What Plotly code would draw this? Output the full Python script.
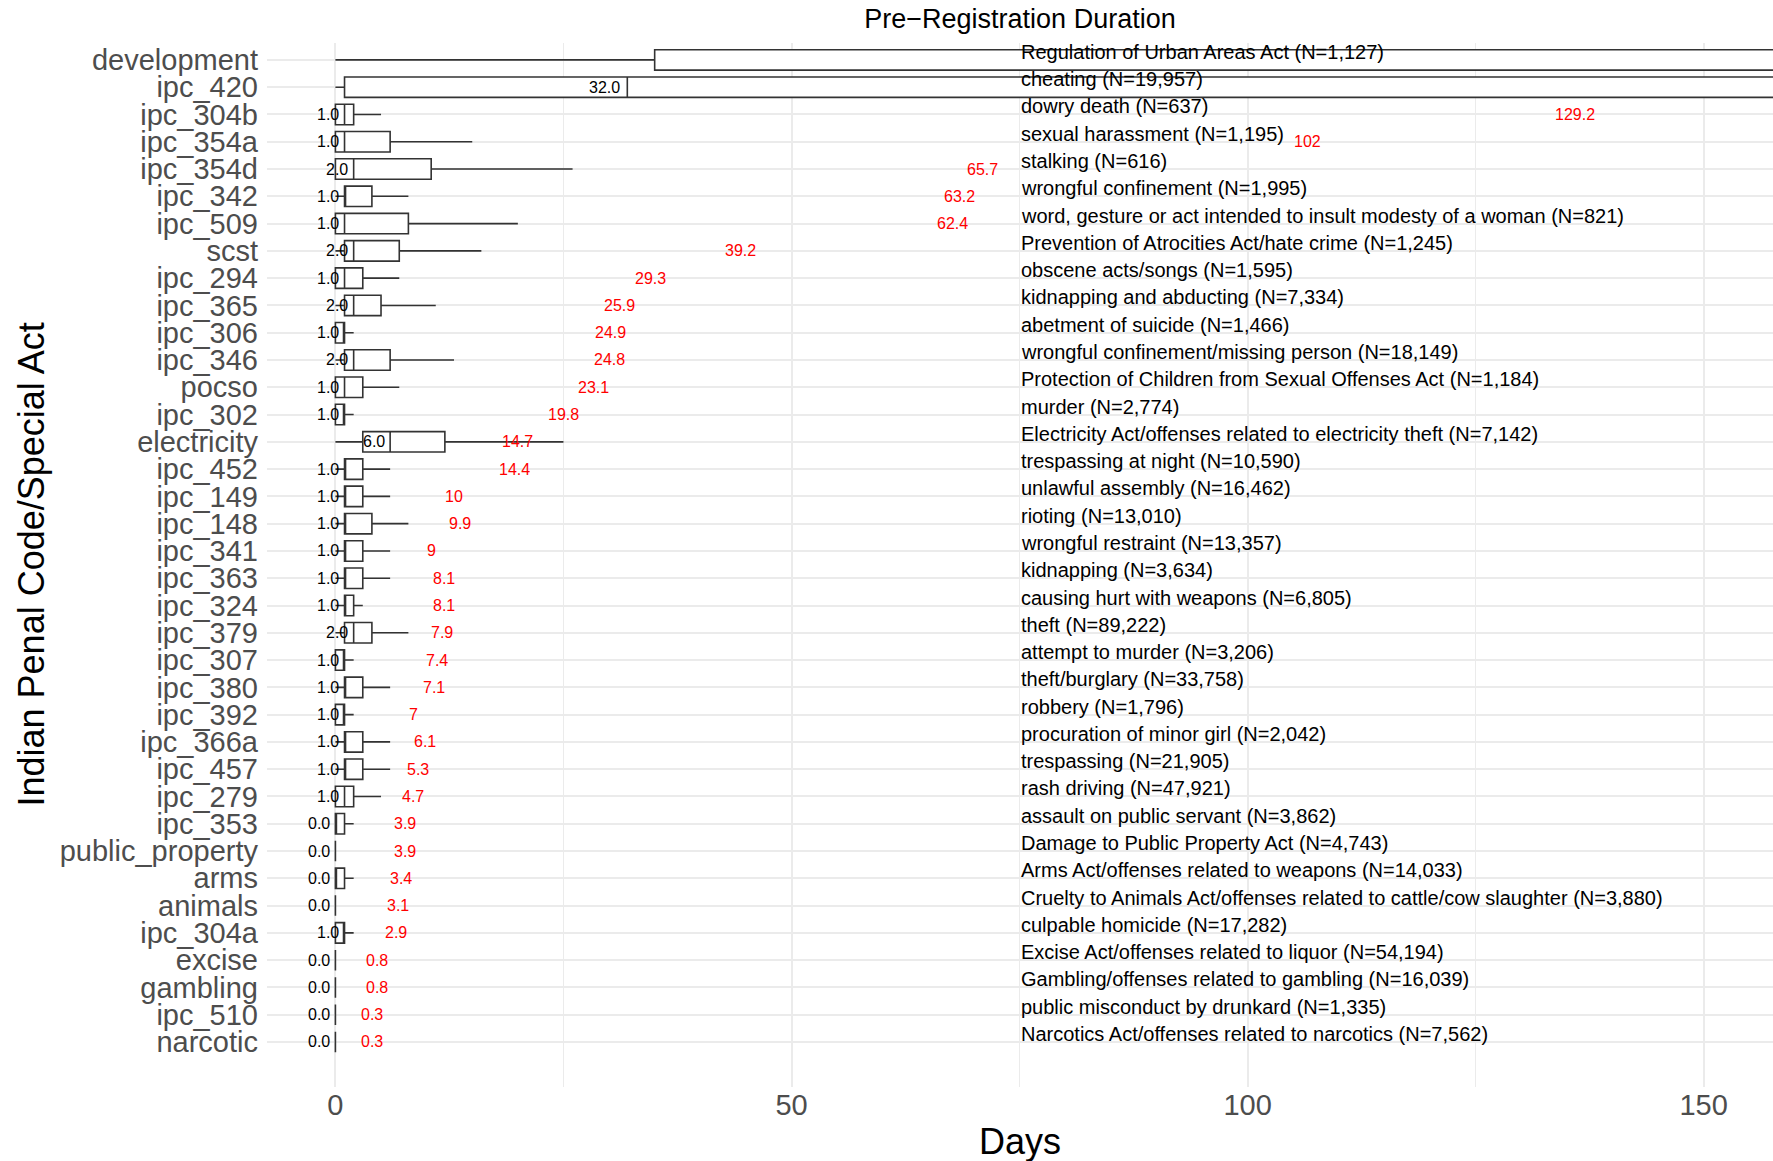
import plotly.graph_objects as go

# ---------------- data (top row first) ----------------
categories = [
    "development", "ipc_420", "ipc_304b", "ipc_354a", "ipc_354d", "ipc_342", "ipc_509",
    "scst", "ipc_294", "ipc_365", "ipc_306", "ipc_346", "pocso", "ipc_302", "electricity",
    "ipc_452", "ipc_149", "ipc_148", "ipc_341", "ipc_363", "ipc_324", "ipc_379", "ipc_307",
    "ipc_380", "ipc_392", "ipc_366a", "ipc_457", "ipc_279", "ipc_353", "public_property",
    "arms", "animals", "ipc_304a", "excise", "gambling", "ipc_510", "narcotic",
]
descriptions = [
    "Regulation of Urban Areas Act (N=1,127)",
    "cheating (N=19,957)",
    "dowry death (N=637)",
    "sexual harassment (N=1,195)",
    "stalking (N=616)",
    "wrongful confinement (N=1,995)",
    "word, gesture or act intended to insult modesty of a woman (N=821)",
    "Prevention of Atrocities Act/hate crime (N=1,245)",
    "obscene acts/songs (N=1,595)",
    "kidnapping and abducting (N=7,334)",
    "abetment of suicide (N=1,466)",
    "wrongful confinement/missing person (N=18,149)",
    "Protection of Children from Sexual Offenses Act (N=1,184)",
    "murder (N=2,774)",
    "Electricity Act/offenses related to electricity theft (N=7,142)",
    "trespassing at night (N=10,590)",
    "unlawful assembly (N=16,462)",
    "rioting (N=13,010)",
    "wrongful restraint (N=13,357)",
    "kidnapping (N=3,634)",
    "causing hurt with weapons (N=6,805)",
    "theft (N=89,222)",
    "attempt to murder (N=3,206)",
    "theft/burglary (N=33,758)",
    "robbery (N=1,796)",
    "procuration of minor girl (N=2,042)",
    "trespassing (N=21,905)",
    "rash driving (N=47,921)",
    "assault on public servant (N=3,862)",
    "Damage to Public Property Act (N=4,743)",
    "Arms Act/offenses related to weapons (N=14,033)",
    "Cruelty to Animals Act/offenses related to cattle/cow slaughter (N=3,880)",
    "culpable homicide (N=17,282)",
    "Excise Act/offenses related to liquor (N=54,194)",
    "Gambling/offenses related to gambling (N=16,039)",
    "public misconduct by drunkard (N=1,335)",
    "Narcotics Act/offenses related to narcotics (N=7,562)",
]
lower_fence = [0, 0, 0, 0, 0, 0, 0, 0, 0, 0, 0, 0, 0, 0, 0, 0, 0, 0, 0, 0, 0, 0, 0,
               0, 0, 0, 0, 0, 0, 0, 0, 0, 0, 0, 0, 0, 0]
q1 = [35, 1, 0, 0, 0, 1, 0, 1, 0, 1, 0, 1, 0, 0, 3, 1, 1, 1, 1, 1, 1, 1, 0,
      1, 0, 1, 1, 0, 0, 0, 0, 0, 0, 0, 0, 0, 0]
median = [200, 32, 1, 1, 2, 1, 1, 2, 1, 2, 1, 2, 1, 1, 6, 1, 1, 1, 1, 1, 1, 2, 1,
          1, 1, 1, 1, 1, 0, 0, 0, 0, 1, 0, 0, 0, 0]
q3 = [400, 220, 2, 6, 10.5, 4, 8, 7, 3, 5, 1, 6, 3, 1, 12, 3, 3, 4, 3, 3, 2, 4, 1,
      3, 1, 3, 3, 2, 1, 0, 1, 0, 1, 0, 0, 0, 0]
upper_fence = [900, 500, 5, 15, 26, 8, 20, 16, 7, 11, 2, 13, 7, 2, 25, 6, 6, 8, 6, 6, 3, 8, 2,
               6, 2, 6, 6, 5, 2, 0, 2, 0, 2, 0, 0, 0, 0]
mean = [250, 170, 129.2, 102, 65.7, 63.2, 62.4, 39.2, 29.3, 25.9, 24.9, 24.8, 23.1, 19.8, 14.7,
        14.4, 10, 9.9, 9, 8.1, 8.1, 7.9, 7.4, 7.1, 7, 6.1, 5.3, 4.7, 3.9, 3.9,
        3.4, 3.1, 2.9, 0.8, 0.8, 0.3, 0.3]
x_ticks = [0, 50, 100, 150]
desc_x = 75

# ---------------- layout constants ----------------
FONT = "Liberation Sans, Arial, Helvetica, sans-serif"
W, H = 1773, 1161
ML, MR, MT, MB = 267, 0, 43, 74
X_RANGE = [-7.5, 157.6]
n = len(categories)
ypos = [n - 1 - i for i in range(n)]
Y_RANGE = [-1.65, n - 1 + 0.62]

CW = {c: 0.556 for c in "0123456789"}
CW.update({".": 0.278, ",": 0.278})


def text_w(s, size):
    return sum(CW.get(c, 0.556) for c in s) * size


fig = go.Figure()
fig.add_trace(go.Box(
    y=ypos, q1=q1, median=median, q3=q3,
    lowerfence=lower_fence, upperfence=upper_fence,
    orientation="h", width=0.75, whiskerwidth=0,
    fillcolor="white", line=dict(color="#333333", width=1.6),
    boxpoints=False, hoverinfo="skip", showlegend=False,
))

ann = []
lab_size = 16
for i in range(n):
    y = ypos[i]
    # median label (right-aligned, hjust ~1.2)
    if X_RANGE[0] <= median[i] <= X_RANGE[1]:
        s = f"{median[i]:.1f}"
        ann.append(dict(x=median[i], y=y, xref="x", yref="y", text=s, showarrow=False,
                        xanchor="right", yanchor="middle", borderpad=0,
                        xshift=-0.2 * text_w(s, lab_size),
                        font=dict(family=FONT, size=lab_size, color="black")))
    # mean label (red, hjust = -1)
    if X_RANGE[0] <= mean[i] <= X_RANGE[1]:
        s = f"{round(mean[i], 1):g}"
        ann.append(dict(x=mean[i], y=y, xref="x", yref="y", text=s, showarrow=False,
                        xanchor="left", yanchor="middle", borderpad=0,
                        xshift=text_w(s, lab_size),
                        font=dict(family=FONT, size=lab_size, color="red")))
    # description
    ann.append(dict(x=desc_x, y=y, xref="x", yref="y", text=descriptions[i], showarrow=False,
                    xanchor="left", yanchor="middle", borderpad=0, yshift=8,
                    font=dict(family=FONT, size=20, color="black")))

plot_w = W - ML - MR
plot_h = H - MT - MB
# axis titles
ann.append(dict(x=(30.5 - ML) / plot_w, y=0.5, xref="paper", yref="paper",
                text="Indian Penal Code/Special Act", textangle=-90, showarrow=False,
                xanchor="center", yanchor="middle",
                font=dict(family=FONT, size=36, color="black")))
ann.append(dict(x=0.5, y=-(1142 - (H - MB)) / plot_h, xref="paper", yref="paper",
                text="Days", showarrow=False, xanchor="center", yanchor="middle",
                font=dict(family=FONT, size=36, color="black")))

fig.update_layout(
    width=W, height=H,
    margin=dict(l=ML, r=MR, t=MT, b=MB, pad=0),
    paper_bgcolor="white", plot_bgcolor="white",
    title=dict(text="Pre\u2212Registration Duration", x=0.5, xref="paper",
               y=1 - 19 / H, yref="container", xanchor="center", yanchor="middle",
               font=dict(family=FONT, size=27, color="black")),
    xaxis=dict(range=X_RANGE, tickvals=x_ticks, ticktext=[str(v) for v in x_ticks],
               showgrid=True, gridcolor="#ebebeb", gridwidth=1.6, zeroline=False,
               showline=False, ticks="", ticklabelstandoff=-2,
               tickfont=dict(family=FONT, size=29, color="#4d4d4d"),
               minor=dict(tickvals=[25, 75, 125], showgrid=True, gridcolor="#ebebeb",
                          gridwidth=1)),
    yaxis=dict(range=Y_RANGE, tickvals=ypos, ticktext=categories,
               showgrid=True, gridcolor="#ebebeb", gridwidth=1.6, zeroline=False,
               showline=False, ticks="", ticklabelstandoff=8,
               tickfont=dict(family=FONT, size=29, color="#4d4d4d")),
    annotations=ann,
)

fig.write_html("out.html")
